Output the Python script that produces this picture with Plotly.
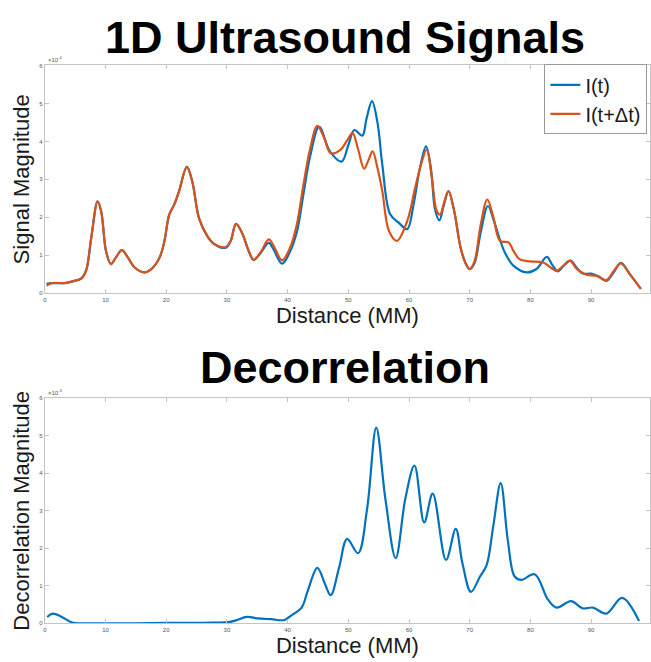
import plotly.graph_objects as go

# ---- Data (top: ×1e-4, bottom: ×1e-3) ----
dist_it = [0.3, 1.1, 3.3, 4.9, 6.0, 6.8, 7.65, 8.7, 9.3, 10.1, 10.9, 11.7, 12.7, 13.7, 14.8, 16.4, 17.5,
           18.9, 19.7, 20.5, 21.3, 22.1, 23.4, 24.3, 25.4, 26.8, 27.9, 29.8, 30.6, 31.5, 32.5, 33.6, 34.4,
           35.5, 36.9, 37.7, 39.1, 40.4, 41.5, 42.6, 43.7, 45.2, 47.0, 48.9, 50.0, 51.0, 52.3, 53.0, 53.9,
           54.8, 55.6, 56.9, 58.3, 59.7, 60.75, 61.8, 62.8, 63.6, 64.3, 65.0, 65.7, 66.5, 67.4, 68.5, 69.3,
           70.0, 70.8, 71.8, 73.0, 74.0, 75.0, 75.8, 77.2, 79.4, 81.0, 82.7, 83.6, 84.5, 85.6, 86.6, 87.6,
           88.6, 90.0, 91.2, 92.5, 93.7, 94.9, 96.4, 98.2]
mag_it = [0.25, 0.27, 0.27, 0.33, 0.39, 0.6, 1.46, 2.42, 2.15, 1.1, 0.77, 0.94, 1.14, 0.94, 0.68, 0.55, 0.63,
          0.94, 1.37, 2.07, 2.33, 2.68, 3.33, 2.94, 1.98, 1.5, 1.3, 1.2, 1.37, 1.83, 1.59, 1.11, 0.88,
          1.05, 1.33, 1.15, 0.78, 1.1, 1.6, 2.6, 3.6, 4.38, 3.73, 3.47, 3.9, 4.3, 4.15, 4.6, 5.06,
          4.5, 3.39, 2.08, 1.86, 1.69, 2.34, 3.3, 3.87, 3.3, 2.2, 1.92, 2.3, 2.69, 2.2, 1.2, 0.8,
          0.64, 0.8, 1.6, 2.30, 1.9, 1.4, 1.07, 0.73, 0.55, 0.64, 0.96, 0.75, 0.58, 0.75, 0.86, 0.68,
          0.52, 0.52, 0.45, 0.33, 0.55, 0.80, 0.5, 0.12]

dist_itdt = [0.3, 1.1, 3.3, 4.9, 6.0, 6.8, 7.65, 8.7, 9.3, 10.1, 10.9, 11.7, 12.7, 13.7, 14.8, 16.4, 17.5,
             18.9, 19.7, 20.5, 21.3, 22.1, 23.4, 24.3, 25.4, 26.8, 27.9, 29.8, 30.6, 31.5, 32.5, 33.6, 34.4,
             35.5, 36.9, 37.7, 39.1, 40.4, 41.5, 42.6, 43.7, 44.9, 46.0, 47.1, 48.7, 49.7, 50.7, 51.6, 52.6,
             53.3, 54.0, 54.8, 55.6, 56.7, 58.0, 59.7, 61.0, 62.0, 62.9, 63.8, 64.5, 65.1, 65.8, 66.5, 67.4,
             68.5, 69.3, 70.0, 70.8, 71.8, 72.9, 73.9, 75.0, 76.4, 77.2, 78.2, 79.9, 82.1, 83.7, 84.3, 85.4,
             86.5, 87.6, 89.2, 90.9, 92.5, 93.8, 94.9, 96.4, 98.2]
mag_itdt = [0.2, 0.27, 0.27, 0.33, 0.39, 0.6, 1.46, 2.42, 2.15, 1.1, 0.77, 0.94, 1.14, 0.94, 0.68, 0.55, 0.63,
            0.94, 1.37, 2.07, 2.33, 2.68, 3.33, 2.94, 1.98, 1.5, 1.3, 1.22, 1.37, 1.83, 1.59, 1.11, 0.88,
            1.07, 1.42, 1.25, 0.87, 1.2, 1.8, 2.85, 3.8, 4.41, 4.1, 3.69, 3.78, 4.0, 4.22, 3.8, 3.28,
            3.5, 3.74, 3.3, 2.69, 1.64, 1.38, 1.90, 2.77, 3.4, 3.78, 3.0, 2.2, 2.07, 2.4, 2.69, 2.2,
            1.2, 0.8, 0.64, 0.85, 1.8, 2.47, 2.0, 1.38, 1.34, 1.12, 0.9, 0.84, 0.81, 0.64, 0.59, 0.72,
            0.86, 0.65, 0.49, 0.46, 0.35, 0.6, 0.79, 0.5, 0.12]

dist_dec = [0.4, 1.3, 2.8, 4.5, 6.1, 10, 15, 20, 25, 28, 30.2, 31.5, 33.3, 35.1, 37.3, 39.5, 40.5, 42.3,
            43.3, 44.9, 46.2, 47.1, 48.5, 49.8, 51.6, 53.1, 54.6, 56.1, 57.8, 59.4, 60.9, 62.5, 63.9, 66.1,
            67.7, 68.8, 70.2, 71.7, 72.8, 73.9, 75.1, 76.3, 77.4, 78.5, 80.7, 82.9, 84.3, 86.7, 88.6, 90.3,
            92.5, 95.1, 97.9]
mag_dec = [0.17, 0.26, 0.17, 0.02, 0.0, 0.0, 0.0, 0.01, 0.01, 0.02, 0.03, 0.08, 0.17, 0.13, 0.11, 0.09, 0.2, 0.42,
           0.86, 1.48, 1.03, 0.75, 1.5, 2.25, 1.87, 3.06, 5.22, 3.33, 1.74, 3.33, 4.21, 2.69, 3.46, 1.69,
           2.52, 1.6, 0.84, 1.25, 1.56, 2.62, 3.74, 2.18, 1.25, 1.16, 1.31, 0.63, 0.42, 0.59, 0.40, 0.42,
           0.26, 0.68, 0.06]

x_ticks = [0, 10, 20, 30, 40, 50, 60, 70, 80, 90]
y_ticks = [0, 1, 2, 3, 4, 5, 6]

BLUE = "#0072BD"
ORANGE = "#D95319"
AX = "#c4c4c4"
FONT = "Liberation Sans, Arial, sans-serif"

fig = go.Figure()
fig.add_trace(go.Scatter(x=dist_it, y=mag_it, mode="lines", name="I(t)",
                         line=dict(color=BLUE, width=2.2, shape="spline", smoothing=1.0),
                         xaxis="x", yaxis="y"))
fig.add_trace(go.Scatter(x=dist_itdt, y=mag_itdt, mode="lines", name="I(t+\u0394t)",
                         line=dict(color=ORANGE, width=2.2, shape="spline", smoothing=1.0),
                         xaxis="x", yaxis="y"))
fig.add_trace(go.Scatter(x=dist_dec, y=mag_dec, mode="lines", name="Decorrelation",
                         line=dict(color=BLUE, width=2.2, shape="spline", smoothing=1.0),
                         xaxis="x2", yaxis="y2", showlegend=False))

W, H = 651, 662
xdom = [43 / W, 1.0]
top_dom = [1 - 293 / H, 1 - 63 / H]
bot_dom = [1 - 626 / H, 1 - 399 / H]
title_x = 345 / W

common_x = dict(range=[0, 99.7], tickvals=x_ticks, ticks="inside", ticklen=4, tickcolor=AX,
                showline=True, linecolor=AX, linewidth=1, mirror="ticks", showgrid=False, zeroline=False,
                tickfont=dict(size=6, color="#555", family=FONT))
common_y = dict(range=[0, 6], tickvals=y_ticks, ticks="inside", ticklen=4, tickcolor=AX,
                showline=True, linecolor=AX, linewidth=1, mirror="ticks", showgrid=False, zeroline=False,
                tickfont=dict(size=6, color="#555", family=FONT))

fig.update_layout(
    width=W, height=H,
    margin=dict(l=0, r=0, t=0, b=0),
    paper_bgcolor="white", plot_bgcolor="white",
    font=dict(family=FONT, color="#1a1a1a"),
    xaxis=dict(domain=xdom, anchor="y", **common_x,
               title=dict(text="Distance (MM)", font=dict(size=22, color="#1a1a1a"), standoff=3)),
    yaxis=dict(domain=top_dom, anchor="x", **common_y,
               title=dict(text="Signal Magnitude", font=dict(size=22, color="#1a1a1a"), standoff=3)),
    xaxis2=dict(domain=xdom, anchor="y2", **common_x,
                title=dict(text="Distance (MM)", font=dict(size=22, color="#1a1a1a"), standoff=3)),
    yaxis2=dict(domain=bot_dom, anchor="x2", **common_y,
                title=dict(text="Decorrelation Magnitude", font=dict(size=22, color="#1a1a1a"), standoff=3)),
    legend=dict(x=0.996, xanchor="right", y=1 - 62 / H, yanchor="top",
                bgcolor="white", bordercolor="#999", borderwidth=1,
                font=dict(size=20, color="#1a1a1a", family=FONT),
                itemwidth=30, tracegroupgap=0),
    showlegend=True,
    annotations=[
        dict(text="<b>1D Ultrasound Signals</b>", x=title_x, y=1 - 35 / H, xref="paper", yref="paper",
             xanchor="center", yanchor="middle", showarrow=False,
             font=dict(size=45, color="black", family=FONT)),
        dict(text="<b>Decorrelation</b>", x=title_x, y=1 - 368 / H, xref="paper", yref="paper",
             xanchor="center", yanchor="middle", showarrow=False,
             font=dict(size=45, color="black", family=FONT)),
        dict(text="\u00d710<sup>-4</sup>", x=0, y=6, xref="x", yref="y", xanchor="left", yanchor="bottom",
             showarrow=False, font=dict(size=6, color="#555", family=FONT), xshift=1),
        dict(text="\u00d710<sup>-3</sup>", x=0, y=6, xref="x2", yref="y2", xanchor="left", yanchor="bottom",
             showarrow=False, font=dict(size=6, color="#555", family=FONT), xshift=1),
    ],
)

fig.write_html("out.html")
